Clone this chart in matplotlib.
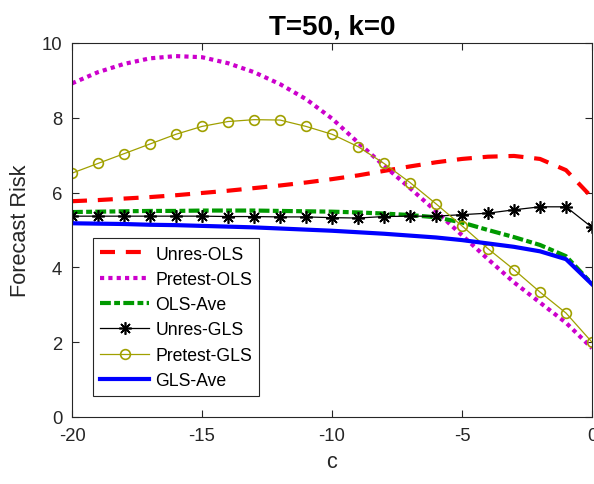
import matplotlib
matplotlib.use("Agg")
import matplotlib.pyplot as plt
import numpy as np

c = list(range(-20, 1))

unres_ols = [5.77, 5.80, 5.84, 5.88, 5.93, 5.99, 6.05, 6.12, 6.19, 6.27, 6.36,
             6.46, 6.58, 6.70, 6.81, 6.90, 6.96, 6.98, 6.90, 6.60, 5.87]
pretest_ols = [8.92, 9.22, 9.44, 9.59, 9.65, 9.62, 9.46, 9.22, 8.90, 8.50, 7.98,
               7.34, 6.72, 6.12, 5.50, 4.86, 4.22, 3.60, 3.06, 2.52, 1.84]
ols_ave = [5.48, 5.49, 5.50, 5.51, 5.51, 5.52, 5.52, 5.52, 5.51, 5.50, 5.49,
           5.47, 5.44, 5.40, 5.34, 5.20, 5.00, 4.81, 4.60, 4.30, 3.56]
unres_gls = [5.37, 5.37, 5.37, 5.37, 5.37, 5.37, 5.36, 5.36, 5.35, 5.35, 5.33,
             5.32, 5.36, 5.37, 5.37, 5.41, 5.45, 5.54, 5.62, 5.62, 5.07]
pretest_gls = [6.52, 6.78, 7.04, 7.30, 7.56, 7.77, 7.90, 7.95, 7.94, 7.77, 7.56,
               7.23, 6.78, 6.27, 5.70, 5.11, 4.50, 3.94, 3.34, 2.78, 2.00]
gls_ave = [5.18, 5.17, 5.16, 5.14, 5.13, 5.11, 5.09, 5.07, 5.04, 5.01, 4.98,
           4.94, 4.90, 4.85, 4.80, 4.73, 4.64, 4.55, 4.43, 4.22, 3.55]

labels = ["Unres-OLS", "Pretest-OLS", "OLS-Ave", "Unres-GLS", "Pretest-GLS", "GLS-Ave"]
xticks = [-20, -15, -10, -5, 0]
yticks = [0, 2, 4, 6, 8, 10]

plt.rcParams['font.family'] = ['Liberation Sans', 'DejaVu Sans']
plt.rcParams['axes.unicode_minus'] = False

fig = plt.figure(figsize=(5.94, 4.85), dpi=100)
ax = fig.add_axes([72/594, 1-418/485, 520/594, 374/485])

axc = '#262626'
lw = 3.0
ax.plot(c, unres_ols, color='#FF0000', lw=lw, dashes=(3.6, 2.6), label=labels[0])
ax.plot(c, pretest_ols, color='#CC00CC', lw=lw, dashes=(1.0, 1.0), label=labels[1])
ax.plot(c, ols_ave, color='#009900', lw=lw, dashes=(2.6, 0.8, 1.4, 0.8), label=labels[2])
ax.plot(c, unres_gls, color='black', lw=0.9, marker=(8, 2, 0), markersize=9,
        markeredgewidth=1.2, label=labels[3])
ax.plot(c, pretest_gls, color='#A0A000', lw=0.9, marker='o', markersize=7,
        markerfacecolor='none', markeredgewidth=1.2, label=labels[4])
ax.plot(c, gls_ave, color='#0000FF', lw=lw, label=labels[5])

ax.set_xlim(-20, 0)
ax.set_ylim(0, 10)
ax.set_xticks(xticks)
ax.set_yticks(yticks)
ax.tick_params(direction='in', length=5, width=0.8, top=True, right=True,
               labelsize=13.3, colors=axc, pad=7)
for s in ax.spines.values():
    s.set_color(axc)
    s.set_linewidth(0.8)

ax.set_title("T=50, k=0", fontsize=20, fontweight='bold', pad=7)
ax.set_xlabel("c", fontsize=15.7, color=axc, labelpad=5)
ax.set_ylabel("Forecast Risk", fontsize=15.7, color=axc, labelpad=8)

leg = ax.legend(loc='lower left', bbox_to_anchor=(0.040, 0.056), fontsize=12.7,
                frameon=True, fancybox=False, edgecolor=axc, framealpha=1,
                handlelength=2.8, handletextpad=0.35, labelspacing=0.47,
                borderpad=0.4, borderaxespad=0)
leg.get_frame().set_linewidth(0.8)

fig.savefig("out.png", dpi=100)
